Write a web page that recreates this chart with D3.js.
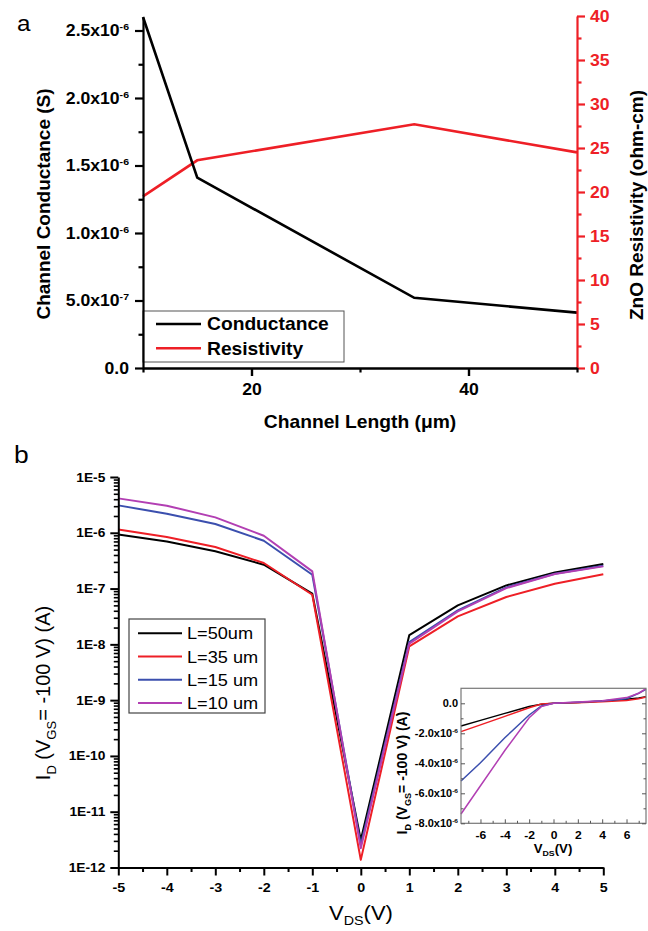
<!DOCTYPE html>
<html>
<head>
<meta charset="utf-8">
<script src="https://cdn.jsdelivr.net/npm/d3@7"></script>
<style>
body { margin: 0; background: #fff; }
svg { display: block; font-family: "Liberation Sans", Arial, sans-serif; }
</style>
</head>
<body>
<div id="chart"></div>
<script>
// panel a: channel length sweep
const lengths = [10, 15, 35, 50]
const conductance = [2.6e-6, 1.41e-6, 5.2e-7, 4.1e-7]
const resistivity = [19.5, 23.6, 27.7, 24.5]
const condTicks = [0, 5e-7, 1e-6, 1.5e-6, 2e-6, 2.5e-6]
const condMinor = [2.5e-7, 7.5e-7, 1.25e-6, 1.75e-6, 2.25e-6]
const resTicks = [0, 5, 10, 15, 20, 25, 30, 35, 40]
const resMinor = [2.5, 7.5, 12.5, 17.5, 22.5, 27.5, 32.5, 37.5]
const lenTicks = [20, 40]
const lenMinor = [10, 30, 50]
const legendA = ["Conductance", "Resistivity"]

// panel b: output curves, log scale
const vds = [-5, -4, -3, -2, -1, 0, 1, 2, 3, 4, 5]
const names = ["L=50um", "L=35 um", "L=15 um", "L=10 um"]
const colors = ["#000000", "#ee1f26", "#3b4fae", "#b23fb3"]
const id50 = [9.3e-7, 7.0e-7, 4.65e-7, 2.68e-7, 8.1e-8, 3.1e-12, 1.47e-8, 5.0e-8, 1.14e-7, 1.95e-7, 2.75e-7]
const id35 = [1.14e-6, 8.4e-7, 5.56e-7, 2.87e-7, 7.76e-8, 1.37e-12, 9.2e-9, 3.17e-8, 7.05e-8, 1.22e-7, 1.8e-7]
const id15 = [3.1e-6, 2.2e-6, 1.44e-6, 7.2e-7, 1.77e-7, 2.55e-12, 1.1e-8, 4.06e-8, 1.05e-7, 1.85e-7, 2.57e-7]
const id10 = [4.14e-6, 3.06e-6, 1.89e-6, 8.87e-7, 2.03e-7, 2.22e-12, 1.03e-8, 3.9e-8, 1.02e-7, 1.82e-7, 2.5e-7]
const logTicks = [1e-12, 1e-11, 1e-10, 1e-9, 1e-8, 1e-7, 1e-6, 1e-5]
const logLabels = ["1E-12", "1E-11", "1E-10", "1E-9", "1E-8", "1E-7", "1E-6", "1E-5"]
const vTicks = [-5, -4, -3, -2, -1, 0, 1, 2, 3, 4, 5]
const vMinor = [-4.5, -3.5, -2.5, -1.5, -0.5, 0.5, 1.5, 2.5, 3.5, 4.5]

// inset: linear scale
const insetV = [-7.6, -6, -4, -2, -1, 0, 2, 4, 6, 7, 7.6]
const in50 = [-1.51e-6, -1.14e-6, -6.7e-7, -2.2e-7, -6e-8, 0, 6e-8, 1.5e-7, 2.7e-7, 3.6e-7, 4.4e-7]
const in35 = [-1.89e-6, -1.44e-6, -8.7e-7, -3.0e-7, -5e-8, 0, 4e-8, 1.1e-7, 1.8e-7, 3.0e-7, 4.2e-7]
const in15 = [-5.18e-6, -3.96e-6, -2.3e-6, -7.8e-7, -1.8e-7, 0, 7e-8, 1.5e-7, 3.1e-7, 6.7e-7, 9.3e-7]
const in10 = [-7.38e-6, -5.5e-6, -3.15e-6, -9.6e-7, -2.2e-7, 0, 8e-8, 1.7e-7, 3.8e-7, 6.7e-7, 9.8e-7]
const insetYTicks = [-8e-6, -6e-6, -4e-6, -2e-6, 0]
const insetYMinor = [-7e-6, -5e-6, -3e-6, -1e-6]
const insetXTicks = [-6, -4, -2, 0, 2, 4, 6]
const insetXMinor = [-7, -5, -3, -1, 1, 3, 5, 7]

const sx = 1.1

const svg = d3.select("#chart").append("svg")
	.attr("width", 648)
	.attr("height", 931)

const sci = (sel, d) => {
	sel.text(null)
	if (d === 0) { sel.text("0.0"); return }
	const e = Math.floor(Math.log10(Math.abs(d)) + 1e-9)
	const m = d / Math.pow(10, e)
	sel.append("tspan").text(`${m.toFixed(1)}x10`)
	sel.append("tspan").attr("dy", "-0.6em").attr("font-size", "0.6em").text(e)
}

// widen tick text a little, like the source figure
const stretch = (g) => g.selectAll(".tick text").each(function() {
	const t = d3.select(this)
	const x = +(t.attr("x") || 0)
	t.attr("x", x / sx).attr("transform", `scale(${sx},1)`)
})

const styleAxis = (g, color, width, size, weight) => {
	g.attr("font-family", null).attr("font-size", size).attr("font-weight", weight)
	g.select(".domain").attr("stroke", color).attr("stroke-width", width)
	g.selectAll(".tick line").attr("stroke", color).attr("stroke-width", width)
	g.selectAll(".tick text").attr("fill", color)
}

const minor = (g, axis, color, width) => {
	g.call(axis.tickFormat(""))
	g.select(".domain").remove()
	g.selectAll(".tick line").attr("stroke", color).attr("stroke-width", width)
}

const label = (x, y, txt, size, weight, anchor) => svg.append("text")
	.attr("transform", `translate(${x},${y}) scale(${sx},1)`)
	.attr("text-anchor", anchor || "start")
	.attr("font-size", size)
	.attr("font-weight", weight || "normal")
	.text(txt)

// ---------- panel a ----------
const xA = d3.scaleLinear().domain([10, 50]).range([143, 577])
const yA = d3.scaleLinear().domain([0, 2.6e-6]).range([368, 17])
const yR = d3.scaleLinear().domain([0, 40]).range([368, 16])

svg.append("path")
	.datum(d3.zip(lengths, resistivity))
	.attr("fill", "none")
	.attr("stroke", colors[1])
	.attr("stroke-width", 2.6)
	.attr("d", d3.line().x(d => xA(d[0])).y(d => yR(d[1])))

svg.append("path")
	.datum(d3.zip(lengths, conductance))
	.attr("fill", "none")
	.attr("stroke", "#000")
	.attr("stroke-width", 2.6)
	.attr("d", d3.line().x(d => xA(d[0])).y(d => yA(d[1])))

const legA = svg.append("g")
legA.append("rect")
	.attr("x", 143).attr("y", 311)
	.attr("width", 201).attr("height", 51)
	.attr("fill", "#fff").attr("stroke", "#555").attr("stroke-width", 1)
legendA.forEach((name, i) => {
	const y = 324 + i * 24.3
	legA.append("line")
		.attr("x1", 156).attr("x2", 201).attr("y1", y).attr("y2", y)
		.attr("stroke", colors[i]).attr("stroke-width", 2.6)
	legA.append("text")
		.attr("transform", `translate(207,${y + 6.2}) scale(${sx},1)`)
		.attr("font-size", 17.5).attr("font-weight", "bold")
		.text(name)
})

const axAL = svg.append("g").attr("transform", "translate(143,0)")
	.call(d3.axisLeft(yA).tickValues(condTicks).tickSize(8).tickSizeOuter(0).tickPadding(6))
axAL.selectAll(".tick text").each(function(d) { sci(d3.select(this), d) })
styleAxis(axAL, "#000", 2.2, 16, "bold")
stretch(axAL)
minor(svg.append("g").attr("transform", "translate(143,0)"),
	d3.axisLeft(yA).tickValues(condMinor).tickSize(4.5), "#000", 2.2)

const axAR = svg.append("g").attr("transform", "translate(577,0)")
	.call(d3.axisRight(yR).tickValues(resTicks).tickSize(8).tickSizeOuter(0).tickPadding(5).tickFormat(d => d))
styleAxis(axAR, colors[1], 2.2, 16, "bold")
stretch(axAR)
minor(svg.append("g").attr("transform", "translate(577,0)"),
	d3.axisRight(yR).tickValues(resMinor).tickSize(4.5), colors[1], 2.2)

const axAB = svg.append("g").attr("transform", "translate(0,368)")
	.call(d3.axisBottom(xA).tickValues(lenTicks).tickSize(8).tickSizeOuter(0).tickPadding(8).tickFormat(d => d))
styleAxis(axAB, "#000", 2.4, 16, "bold")
stretch(axAB)
minor(svg.append("g").attr("transform", "translate(0,368)"),
	d3.axisBottom(xA).tickValues(lenMinor).tickSize(4.5), "#000", 2.2)

label(17, 31, "a", 22)
label(360, 428, "Channel Length (\u03bcm)", 17.5, "bold", "middle")

svg.append("text")
	.attr("transform", "translate(49.5,204) rotate(-90)")
	.attr("text-anchor", "middle").attr("font-size", 19).attr("font-weight", "bold")
	.text("Channel Conductance (S)")

svg.append("text")
	.attr("transform", "translate(643,205) rotate(-90)")
	.attr("text-anchor", "middle").attr("font-size", 19).attr("font-weight", "bold")
	.text("ZnO Resistivity (ohm-cm)")

// ---------- panel b ----------
const xB = d3.scaleLinear().domain([-5, 5]).range([118.3, 603.3])
const yB = d3.scaleLog().domain([1e-12, 1e-5]).range([867.5, 477])
const curves = [id50, id35, id15, id10]

const lineB = d3.line().x(d => xB(d[0])).y(d => yB(d[1]))
curves.forEach((c, i) => {
	svg.append("path")
		.datum(d3.zip(vds, c))
		.attr("fill", "none")
		.attr("stroke", colors[i])
		.attr("stroke-width", 2)
		.attr("stroke-linejoin", "round")
		.attr("d", lineB)
})

const legB = svg.append("g")
legB.append("rect")
	.attr("x", 129).attr("y", 619)
	.attr("width", 136).attr("height", 94)
	.attr("fill", "#fff").attr("stroke", "#444").attr("stroke-width", 1.2)
names.forEach((name, i) => {
	const y = 633.3 + i * 23.2
	legB.append("line")
		.attr("x1", 138).attr("x2", 182).attr("y1", y).attr("y2", y)
		.attr("stroke", colors[i]).attr("stroke-width", 2)
	legB.append("text")
		.attr("transform", `translate(187,${y + 6}) scale(${sx},1)`)
		.attr("font-size", 16.5)
		.text(name)
})

const logMinor = []
logTicks.slice(0, -1).forEach(t => d3.range(2, 10).forEach(m => logMinor.push(m * t)))

const axBL = svg.append("g").attr("transform", "translate(118.3,0)")
	.call(d3.axisLeft(yB).tickValues(logTicks).tickSize(8).tickSizeOuter(0).tickPadding(5)
		.tickFormat((d, i) => logLabels[i]))
styleAxis(axBL, "#000", 2, 12.5, "bold")
stretch(axBL)
minor(svg.append("g").attr("transform", "translate(118.3,0)"),
	d3.axisLeft(yB).tickValues(logMinor).tickSize(4.5), "#000", 1.6)

const axBB = svg.append("g").attr("transform", "translate(0,867.5)")
	.call(d3.axisBottom(xB).tickValues(vTicks).tickSize(8).tickSizeOuter(0).tickPadding(7.5).tickFormat(d => String(d)))
styleAxis(axBB, "#000", 2, 13, "bold")
stretch(axBB)
minor(svg.append("g").attr("transform", "translate(0,867.5)"),
	d3.axisBottom(xB).tickValues(vMinor).tickSize(4.5), "#000", 2)

label(14, 463, "b", 24)

const tB = svg.append("text")
	.attr("transform", `translate(361,920) scale(${sx},1)`)
	.attr("text-anchor", "middle").attr("font-size", 20)
tB.append("tspan").text("V")
tB.append("tspan").attr("font-size", 13).attr("dy", 5).text("DS")
tB.append("tspan").attr("dy", -5).text("(V)")

const yTitle = (x, y, size, weight) => {
	const t = svg.append("text")
		.attr("transform", `translate(${x},${y}) rotate(-90)`)
		.attr("text-anchor", "middle").attr("font-size", size).attr("font-weight", weight)
		.style("white-space", "pre")
	const sub = size * 0.65
	t.append("tspan").text("I")
	t.append("tspan").attr("font-size", sub).attr("dy", size * 0.3).text("D")
	t.append("tspan").attr("dy", -size * 0.3).text(" (V")
	t.append("tspan").attr("font-size", sub).attr("dy", size * 0.3).text("GS")
	t.append("tspan").attr("dy", -size * 0.3).text("= -100 V) (A)")
}
yTitle(49.5, 693, 20, "normal")

// ---------- inset ----------
const xI = d3.scaleLinear().domain([-7.6, 7.6]).range([461, 646])
const yI = d3.scaleLinear().domain([-8e-6, 1e-6]).range([823.3, 688.3])
const insetCurves = [in50, in35, in15, in10]

svg.append("rect")
	.attr("x", 461).attr("y", 688.3)
	.attr("width", 185).attr("height", 135)
	.attr("fill", "#fff")

const lineI = d3.line().x(d => xI(d[0])).y(d => yI(d[1]))
insetCurves.forEach((c, i) => {
	svg.append("path")
		.datum(d3.zip(insetV, c))
		.attr("fill", "none")
		.attr("stroke", colors[i])
		.attr("stroke-width", 1.5)
		.attr("d", lineI)
})

svg.append("rect")
	.attr("x", 461).attr("y", 688.3)
	.attr("width", 185).attr("height", 135)
	.attr("fill", "none").attr("stroke", "#777").attr("stroke-width", 1.2)

const axIL = svg.append("g").attr("transform", "translate(461,0)")
	.call(d3.axisLeft(yI).tickValues(insetYTicks).tickSize(-4).tickSizeOuter(0).tickPadding(3))
axIL.selectAll(".tick text").each(function(d) { sci(d3.select(this), d) })
styleAxis(axIL, "#555", 1, 10, "bold")
axIL.select(".domain").remove()
axIL.selectAll(".tick text").attr("fill", "#000")
stretch(axIL)
minor(svg.append("g").attr("transform", "translate(461,0)"),
	d3.axisLeft(yI).tickValues(insetYMinor).tickSize(-2.5), "#555", 1)

const axIR = svg.append("g").attr("transform", "translate(646,0)")
minor(axIR, d3.axisRight(yI).tickValues(insetYTicks).tickSize(-4), "#555", 1)
minor(svg.append("g").attr("transform", "translate(646,0)"),
	d3.axisRight(yI).tickValues(insetYMinor).tickSize(-2.5), "#555", 1)

const axIB = svg.append("g").attr("transform", "translate(0,823.3)")
	.call(d3.axisBottom(xI).tickValues(insetXTicks).tickSize(-4).tickSizeOuter(0).tickPadding(8).tickFormat(d => String(d)))
styleAxis(axIB, "#555", 1, 11, "bold")
axIB.select(".domain").remove()
axIB.selectAll(".tick text").attr("fill", "#000")
stretch(axIB)
minor(svg.append("g").attr("transform", "translate(0,823.3)"),
	d3.axisBottom(xI).tickValues(insetXMinor).tickSize(-2.5), "#555", 1)

const tI = svg.append("text")
	.attr("transform", `translate(553,853) scale(${sx},1)`)
	.attr("text-anchor", "middle").attr("font-size", 12).attr("font-weight", "bold")
tI.append("tspan").text("V")
tI.append("tspan").attr("font-size", 8).attr("dy", 3).text("DS")
tI.append("tspan").attr("dy", -3).text("(V)")

yTitle(407, 773, 14, "bold")
</script>
</body>
</html>
